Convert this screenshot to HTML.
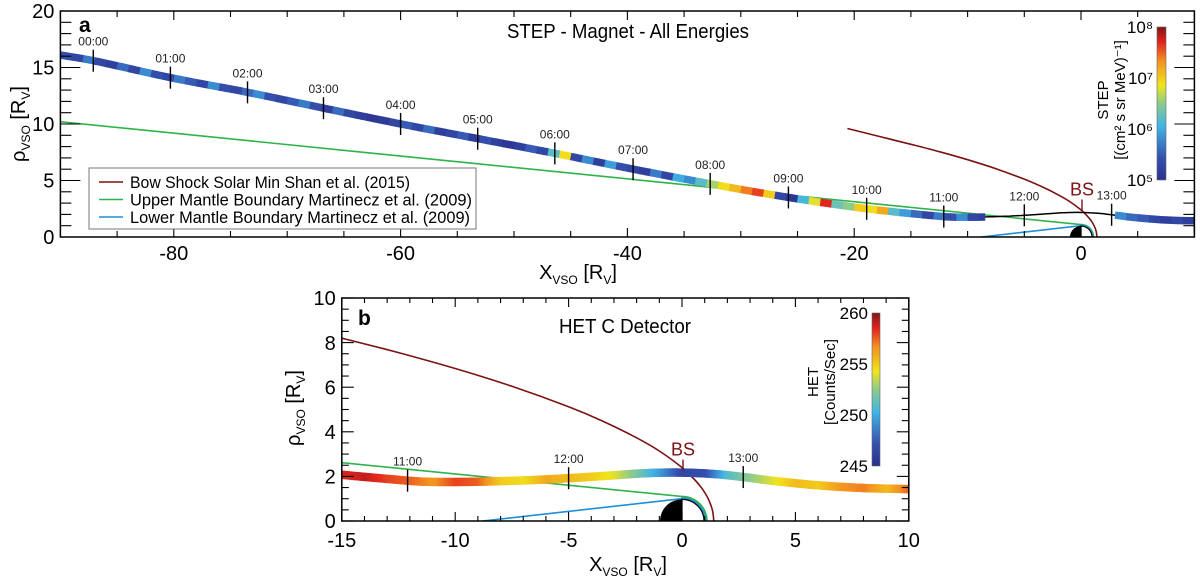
<!DOCTYPE html>
<html><head><meta charset="utf-8"><style>
html,body{margin:0;padding:0;background:#fff;}
svg{display:block;font-family:"Liberation Sans",Arial,sans-serif;}
</style></head><body>
<svg id="fig" width="1200" height="582" viewBox="0 0 1200 582" xmlns="http://www.w3.org/2000/svg">
<defs>
<linearGradient id="jet" x1="0" y1="1" x2="0" y2="0">
<stop offset="0" stop-color="#2b2f8c"/><stop offset="0.15" stop-color="#3552b0"/><stop offset="0.35" stop-color="#40b4e6"/><stop offset="0.5" stop-color="#8ccb8c"/><stop offset="0.62" stop-color="#f0e41c"/><stop offset="0.78" stop-color="#f39020"/><stop offset="0.9" stop-color="#e2231f"/><stop offset="1" stop-color="#7f1616"/>
</linearGradient>
<clipPath id="clipA"><rect x="61" y="11" width="1134" height="226"/></clipPath>
<clipPath id="clipB"><rect x="342" y="298" width="567" height="223"/></clipPath>
</defs>
<g id="panelA"></g>
<g id="panelB"></g>
</svg>
<script>
// ---- data ----
const trajX=[-90,-87.1,-80.3,-73.5,-66.8,-60,-53.2,-46.4,-39.5,-32.7,-25.8,-18.9,-12,-10,-7,-5,-3,-1.5,0,1.5,2.7,4,6,8,10];
const trajY=[16.1,15.6,14.1,12.8,11.4,10.0,8.7,7.4,6.0,4.7,3.5,2.5,1.8,1.75,1.82,1.92,2.05,2.15,2.17,2.1,1.97,1.8,1.6,1.48,1.43];
const timeLabels=['00:00','01:00','02:00','03:00','04:00','05:00','06:00','07:00','08:00','09:00','10:00','11:00','12:00','13:00'];
const timeX=[-87.1,-80.3,-73.5,-66.8,-60,-53.2,-46.4,-39.5,-32.7,-25.8,-18.9,-12.1,-5,2.7];
const stepFluxStart=-90;
const stepFlux=[5.4,5.3,5.7,5.3,5.2,5.6,5.3,5.8,5.4,5.3,
5.7,5.5,5.3,5.8,5.4,5.3,5.6,5.8,5.4,5.3,
5.5,5.7,5.4,5.2,5.6,5.3,5.2,5.1,5.15,5.3,
5.5,5.3,5.6,5.2,5.3,5.5,5.2,5.4,5.2,5.1,
5.2,5.5,5.3,6.2,6.9,5.3,5.8,5.2,5.9,5.4,
5.3,5.2,5.7,5.3,6.0,5.8,6.2,6.6,6.9,7.1,
7.4,7.6,7.0,5.3,5.1,6.1,6.8,7.7,6.3,6.5,
7.0,6.9,7.2,6.2,5.9,5.6,5.3,5.7,5.4,5.8,
5.3,5.2];
const stepFlux2Start=3;
const stepFlux2=[5.8,5.6,5.5,5.3,5.2,5.3,5.2,5.3];
const hetX=[-15,-14,-13,-12,-11,-10,-9,-8,-7,-6,-5,-4,-3,-2,-1,0,1,2,3,4,5,6,7,8,9,10];
const hetVal=[258.5,259,258,257.5,256.5,258,257.5,255,254.5,256,255.5,255,254,252,249.5,246.5,247,251,252.5,254,255.5,255,256.5,257,255.5,257.5];
const bowX=[1.4,1.35,1.2,1.0,0.8,0.4,0,-1,-2,-3.5,-5,-7.5,-10,-12.5,-15,-20.6];
const bowY=[0,0.45,0.9,1.28,1.57,2.02,2.4,3.14,3.73,4.48,5.12,6.04,6.84,7.55,8.2,9.6];
const umbX=[-90,0];
const umbY=[10.2,1.1];
const lmbX=[-8.8,0];
const lmbY=[0,1.0];
const stepTicks=['10⁸','10⁷','10⁶','10⁵'];
const stepTickVals=[8,7,6,5];
const hetTicks=['260','255','250','245'];
const hetTickVals=[260,255,250,245];

// ---- helpers ----
const NS='http://www.w3.org/2000/svg';
function mk(parent,tag,attrs,text){const e=document.createElementNS(NS,tag);for(const k in attrs)e.setAttribute(k,attrs[k]);if(text!==undefined)e.textContent=text;parent.appendChild(e);return e;}
const cmapStops=[[0,[43,47,140]],[0.15,[53,82,176]],[0.35,[64,180,230]],[0.5,[140,203,140]],[0.62,[240,228,28]],[0.78,[243,144,32]],[0.9,[226,35,31]],[1,[127,22,22]]];
function jet(t){t=Math.max(0,Math.min(1,t));for(let i=0;i<cmapStops.length-1;i++){const a=cmapStops[i],b=cmapStops[i+1];if(t<=b[0]){const f=(t-a[0])/(b[0]-a[0]);const c=a[1].map((v,k)=>Math.round(v+f*(b[1][k]-v)));return `rgb(${c[0]},${c[1]},${c[2]})`;}}return 'rgb(127,22,22)';}
function trajAt(x){
  const n=trajX.length;let i=0;while(i<n-2&&x>trajX[i+1])i++;
  const x0=trajX[i],x1=trajX[i+1],y0=trajY[i],y1=trajY[i+1];
  const sl=k=>{if(k<=0)return (trajY[1]-trajY[0])/(trajX[1]-trajX[0]);if(k>=n-1)return (trajY[n-1]-trajY[n-2])/(trajX[n-1]-trajX[n-2]);return (trajY[k+1]-trajY[k-1])/(trajX[k+1]-trajX[k-1]);};
  const h=x1-x0,t=(x-x0)/h,m0=sl(i)*h,m1=sl(i+1)*h;
  const t2=t*t,t3=t2*t;
  return (2*t3-3*t2+1)*y0+(t3-2*t2+t)*m0+(-2*t3+3*t2)*y1+(t3-t2)*m1;
}
function interp(xs,ys,x){for(let i=0;i<xs.length-1;i++){if(x<=xs[i+1]){const f=(x-xs[i])/(xs[i+1]-xs[i]);return ys[i]+f*(ys[i+1]-ys[i]);}}return ys[ys.length-1];}
function smoothPath(px,py){
  let d=`M${px[0].toFixed(1)} ${py[0].toFixed(1)}`;
  for(let i=0;i<px.length-1;i++){
    const p0x=px[Math.max(0,i-1)],p0y=py[Math.max(0,i-1)],p3x=px[Math.min(px.length-1,i+2)],p3y=py[Math.min(px.length-1,i+2)];
    const c1x=px[i]+(px[i+1]-p0x)/6,c1y=py[i]+(py[i+1]-p0y)/6,c2x=px[i+1]-(p3x-px[i])/6,c2y=py[i+1]-(p3y-py[i])/6;
    d+=` C${c1x.toFixed(1)} ${c1y.toFixed(1)} ${c2x.toFixed(1)} ${c2y.toFixed(1)} ${px[i+1].toFixed(1)} ${py[i+1].toFixed(1)}`;
  }
  return d;
}

function drawPanel(g,o){
  const X=v=>o.x0+v*o.sx, Y=v=>o.y0-v*o.sy;
  const L=X(o.xmin),R=X(o.xmax),T=Y(o.ymax),B=Y(0);
  const plot=mk(g,'g',{'clip-path':`url(#${o.clip})`});
  
  
  const bow=mk(plot,'path',{d:smoothPath(bowX.map(X),bowY.map(Y)),fill:'none',stroke:'#7a1214','stroke-width':1.6});
  
  const ru=1.1;let du=`M${X(umbX[0])} ${Y(umbY[0])} L${X(umbX[1])} ${Y(umbY[1])}`;
  for(let a=90;a>=0;a-=5){du+=` L${X(ru*Math.cos(a*Math.PI/180)).toFixed(1)} ${Y(ru*Math.sin(a*Math.PI/180)).toFixed(1)}`;}
  const um=mk(plot,'path',{d:du,fill:'none',stroke:'#2db34a','stroke-width':1.6});
  
  const rl=1.03;let dl=`M${X(lmbX[0])} ${Y(lmbY[0])} L${X(lmbX[1])} ${Y(lmbY[1])}`;
  for(let a=90;a>=0;a-=5){dl+=` L${X(rl*Math.cos(a*Math.PI/180)).toFixed(1)} ${Y(rl*Math.sin(a*Math.PI/180)).toFixed(1)}`;}
  const lm=mk(plot,'path',{d:dl,fill:'none',stroke:'#1c8fd6','stroke-width':1.6});
  
  const pr=0.97;
  const pw=mk(plot,'path',{d:`M${X(0)} ${Y(pr)} A${pr*o.sx} ${pr*o.sy} 0 0 1 ${X(pr)} ${Y(0)} L${X(0)} ${Y(0)} Z`,fill:'#fff',stroke:'#000','stroke-width':1.2});
  
  const pb=mk(plot,'path',{d:`M${X(0)} ${Y(pr)} A${pr*o.sx} ${pr*o.sy} 0 0 0 ${X(-pr)} ${Y(0)} L${X(0)} ${Y(0)} Z`,fill:'#000'});
  
  if(o.blackFrom!==undefined){
    let db='';for(let x=o.blackFrom;x<=o.blackTo+1e-6;x+=0.25){db+=(db?'L':'M')+X(x).toFixed(1)+' '+Y(trajAt(x)).toFixed(1);}
    const bl=mk(plot,'path',{d:db,fill:'none',stroke:'#000','stroke-width':1.5});
    
  }
  const tg=mk(plot,'g',{});
  
  o.segments.forEach(s=>{
    for(let x=s.from;x<s.to-1e-6;x+=s.step){
      const x2=Math.min(s.to,x+s.step);
      const c=jet(s.val(x+s.step/2));
      const ln=mk(tg,'line',{x1:X(x).toFixed(1),y1:Y(trajAt(x)).toFixed(1),x2:(X(x2)+0.6).toFixed(1),y2:Y(trajAt(x2)).toFixed(1),stroke:c,'stroke-width':o.tw});
      
      
    }
  });
  o.times.forEach(t=>{
    const yy=Y(trajAt(t.x));
    const tk=mk(plot,'line',{x1:X(t.x),y1:yy-o.tl,x2:X(t.x),y2:yy+o.tl,stroke:'#000','stroke-width':1.4});
    
    if(t.label){const tx=mk(plot,'text',{x:X(t.x),y:yy-o.tl-4,'font-size':12,'text-anchor':'middle',fill:'#222'},t.label);
      }
  });
  const by=Y(trajAt(0));
  const bt=mk(g,'line',{x1:X(0)+1,y1:by-13,x2:X(0)+1,y2:by-2,stroke:'#7a1214','stroke-width':1.4});
  
  const bs=mk(g,'text',{x:X(0)+1,y:by-17,'font-size':18,'text-anchor':'middle',fill:'#7a1214'},'BS');
  
  const fr=mk(g,'rect',{x:L,y:T,width:R-L,height:B-T,fill:'none',stroke:'#000','stroke-width':1.5});
  
  const ax=mk(g,'g',{stroke:'#000','stroke-width':1.1});
  
  for(let v=o.xmin;v<=o.xmax+1e-6;v+=o.xminor){
    const maj=Math.abs(v/o.xmajor-Math.round(v/o.xmajor))<1e-6;const len=maj?o.xmajLen:o.xminLen;
    mk(ax,'line',{x1:X(v),y1:B,x2:X(v),y2:B-len});mk(ax,'line',{x1:X(v),y1:T,x2:X(v),y2:T+len});
  }
  for(let v=0;v<=o.ymax+1e-6;v+=o.yminor){
    const maj=Math.abs(v/o.ymajor-Math.round(v/o.ymajor))<1e-6;const len=maj?o.ymajLen:o.yminLen;
    mk(ax,'line',{x1:L,y1:Y(v),x2:L+len,y2:Y(v)});mk(ax,'line',{x1:R,y1:Y(v),x2:R-len,y2:Y(v)});
  }
  o.xlabels.forEach(v=>{const t=mk(g,'text',{x:X(v),y:B+o.xlabOff,'font-size':o.fs,'text-anchor':'middle'},String(v));
    });
  o.ylabels.forEach(v=>{const t=mk(g,'text',{x:L-6,y:Y(v)+o.fs*0.36,'font-size':o.fs,'text-anchor':'end'},String(v));
    });
  const xt=mk(g,'text',{x:o.xtX,y:o.xtY,'font-size':20,'text-anchor':'middle'});
  
  xt.innerHTML='X<tspan font-size="12" dy="5">VSO</tspan><tspan dy="-5"> [R</tspan><tspan font-size="12" dy="5">V</tspan><tspan dy="-5">]</tspan>';
  const yt=mk(g,'text',{x:0,y:0,'font-size':20,'text-anchor':'middle',transform:`translate(${o.ytX},${o.ytY}) rotate(-90)`});
  
  yt.innerHTML='ρ<tspan font-size="12" dy="5">VSO</tspan><tspan dy="-5"> [R</tspan><tspan font-size="12" dy="5">V</tspan><tspan dy="-5">]</tspan>';
  return {X,Y};
}

const gA=document.getElementById('panelA');
drawPanel(gA,{x0:1081,sx:11.34,y0:237,sy:11.3,xmin:-90,xmax:10,ymax:20,clip:'clipA',
  xminor:5,xmajor:20,xmajLen:9,xminLen:6,yminor:1,ymajor:5,ymajLen:20,yminLen:11,
  xlabels:[-80,-60,-40,-20,0],ylabels:[0,5,10,15,20],fs:20,xlabOff:23,
  xtX:578,xtY:279,ytX:25,ytY:124,tw:7.5,tl:11,blackFrom:-9,blackTo:3,
  segments:[
    {from:-90,to:-8.5,step:0.5,val:x=>stepFlux[Math.min(stepFlux.length-1,Math.floor(x-stepFluxStart))]},
    {from:3,to:10,step:0.5,val:x=>stepFlux2[Math.min(stepFlux2.length-1,Math.floor(x-stepFlux2Start))]}
  ].map(s=>({from:s.from,to:s.to,step:s.step,val:x=>(s.val(x)-5)/3})),
  times:timeLabels.map((l,i)=>({x:timeX[i],label:l})).concat([{x:10}])
});
const gB=document.getElementById('panelB');
drawPanel(gB,{x0:682,sx:22.68,y0:521,sy:22.3,xmin:-15,xmax:10,ymax:10,clip:'clipB',
  xminor:1,xmajor:5,xmajLen:9,xminLen:5,yminor:0.5,ymajor:2,ymajLen:12,yminLen:7,
  xlabels:[-15,-10,-5,0,5,10],ylabels:[0,2,4,6,8,10],fs:20,xlabOff:26,
  xtX:628,xtY:571,ytX:300,ytY:408,tw:8.5,tl:11,
  segments:[{from:-15,to:10,step:0.1,val:x=>(interp(hetX,hetVal,x)-245)/15}],
  times:timeLabels.map((l,i)=>({x:timeX[i],label:l})).filter(t=>t.x>=-15).concat([{x:10}])
});

let t;
t=mk(gA,'text',{x:79,y:32,'font-size':21,'font-weight':'bold'},'a');
t=mk(gA,'text',{x:507,y:38,'font-size':20,textLength:242,lengthAdjust:'spacingAndGlyphs'},'STEP - Magnet - All Energies');
t=mk(gB,'text',{x:358,y:325,'font-size':21,'font-weight':'bold'},'b');
t=mk(gB,'text',{x:559,y:333,'font-size':20,textLength:132,lengthAdjust:'spacingAndGlyphs'},'HET C Detector');

const lg=mk(gA,'g',{});

mk(lg,'rect',{x:89,y:168,width:387,height:61,fill:'#fff',stroke:'#777','stroke-width':1});
const legNames=['Bow Shock Solar Min Shan et al. (2015)','Upper Mantle Boundary Martinecz et al. (2009)','Lower Mantle Boundary Martinecz et al. (2009)'];
const legCols=['#7a1214','#2db34a','#1c8fd6'];
const legLens=[280,342,340];
legNames.forEach((n,i)=>{
  const yy=182+i*17.5;
  const e=mk(lg,'g',{});
  
  
  mk(e,'line',{x1:99,y1:yy,x2:123,y2:yy,stroke:legCols[i],'stroke-width':1.6});
  mk(e,'text',{x:130,y:yy+6,'font-size':17,textLength:legLens[i],lengthAdjust:'spacingAndGlyphs'},n);
});

function colorbar(g,x,y,w,h,labels,vals,vmin,vmax,titleLines,tx,ty,name){
  const cb=mk(g,'g',{});
  
  
  mk(cb,'rect',{x:x,y:y,width:w,height:h,fill:'url(#jet)',stroke:'#666','stroke-width':0.6});
  labels.forEach((l,i)=>{const yy=y+h*(vmax-vals[i])/(vmax-vmin);
    mk(cb,'text',{x:x-4,y:yy+6,'font-size':17,'text-anchor':'end'},l);});
  titleLines.forEach((tl,i)=>{mk(cb,'text',{x:0,y:0,'font-size':15,'text-anchor':'middle',transform:`translate(${tx+i*17},${ty}) rotate(-90)`},tl);});
}
colorbar(gA,1157,27,9,153,stepTicks,stepTickVals,5,8,['STEP','[(cm² s sr MeV)⁻¹]'],1108,100,'step-colorbar');
colorbar(gB,872,313,8,153,hetTicks,hetTickVals,245,260,['HET','[Counts/Sec]'],818,382,'het-colorbar');
</script>
</body></html>
